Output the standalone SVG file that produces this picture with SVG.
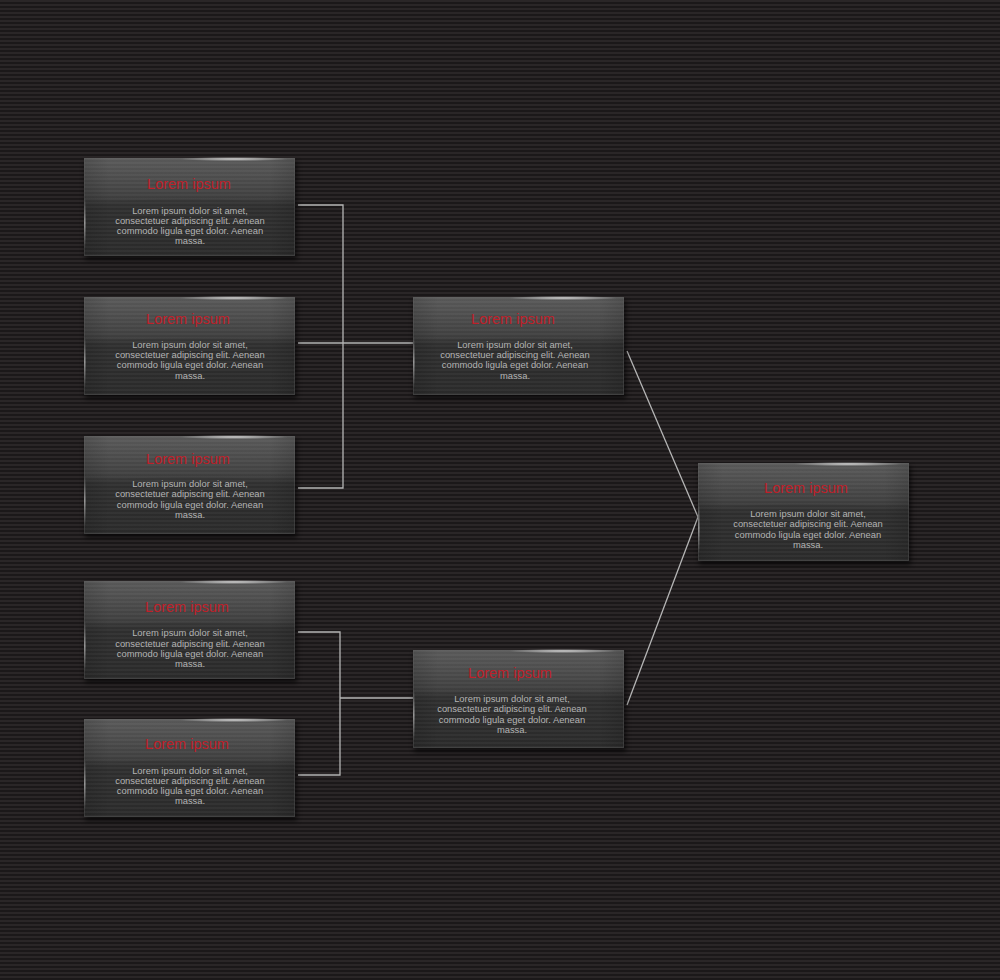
<svg xmlns="http://www.w3.org/2000/svg" xmlns:xlink="http://www.w3.org/1999/xlink" width="1000" height="980" viewBox="0 0 1000 980">
<style>
.t{font-family:"Liberation Sans",Arial,sans-serif;font-size:14.5px;fill:#bf2029;text-anchor:middle}
.b{font-family:"Liberation Sans",Arial,sans-serif;font-size:9.4px;fill:#b4b4b4;text-anchor:middle}
.c{fill:none;stroke:#b4b4b4;stroke-width:1.3}
</style>
<defs>
<pattern id="bg" width="8" height="4" patternUnits="userSpaceOnUse">
<rect width="8" height="4" fill="#1b1819"/>
<rect y="0" width="8" height="2" fill="#2a2627"/>
</pattern>
<pattern id="st" width="8" height="4" patternUnits="userSpaceOnUse">
<rect width="8" height="2" fill="#ffffff" opacity="0.04"/>
</pattern>
<linearGradient id="cg" x1="0" y1="0" x2="0" y2="1">
<stop offset="0" stop-color="#4a4a4a"/>
<stop offset="0.4" stop-color="#3a3a3a"/>
<stop offset="0.5" stop-color="#2e2e2e"/>
<stop offset="1" stop-color="#2a2a2a"/>
</linearGradient>
<linearGradient id="gl" x1="0" y1="0" x2="0" y2="1">
<stop offset="0" stop-color="#ffffff" stop-opacity="0.08"/>
<stop offset="0.8" stop-color="#ffffff" stop-opacity="0.03"/>
<stop offset="1" stop-color="#ffffff" stop-opacity="0"/>
</linearGradient>
<linearGradient id="side" x1="0" y1="0" x2="1" y2="0">
<stop offset="0" stop-color="#000" stop-opacity="0.12"/>
<stop offset="0.12" stop-color="#000" stop-opacity="0"/>
<stop offset="0.88" stop-color="#000" stop-opacity="0"/>
<stop offset="1" stop-color="#000" stop-opacity="0.12"/>
</linearGradient>
<radialGradient id="glow" cx="0.5" cy="0.5" r="0.5">
<stop offset="0" stop-color="#ffffff" stop-opacity="0.7"/>
<stop offset="1" stop-color="#ffffff" stop-opacity="0"/>
</radialGradient>
<linearGradient id="edge" x1="0" y1="0" x2="0" y2="1">
<stop offset="0" stop-color="#ffffff" stop-opacity="0"/>
<stop offset="0.5" stop-color="#ffffff" stop-opacity="0.45"/>
<stop offset="1" stop-color="#ffffff" stop-opacity="0"/>
</linearGradient>
<filter id="sh" x="-10%" y="-10%" width="120%" height="130%">
<feGaussianBlur stdDeviation="2.5"/>
</filter>
<g id="card">
<rect x="1" y="3" width="212" height="99" fill="#000" opacity="0.6" filter="url(#sh)"/>
<rect width="211" height="98" fill="url(#cg)"/>
<path d="M0 0H211V46Q105.5 36 0 46Z" fill="url(#gl)"/>
<rect width="211" height="98" fill="url(#st)"/>
<rect width="211" height="98" fill="url(#side)"/>
<rect x="0.5" y="0.5" width="210" height="97" fill="none" stroke="#6a6a6a" stroke-opacity="0.3"/>
<ellipse cx="150" cy="1" rx="55" ry="2.2" fill="url(#glow)"/>
<rect x="0" y="40" width="1.6" height="50" fill="url(#edge)"/>
</g>
</defs>
<rect width="1000" height="980" fill="url(#bg)"/>
<g id="connectors">
<polyline class="c" points="298,205 343,205 343,488 298,488"/>
<line class="c" x1="298" y1="343" x2="413" y2="343"/>
<polyline class="c" points="298,632 340,632 340,775 298,775"/>
<line class="c" x1="340" y1="698" x2="413" y2="698"/>
<polyline class="c" points="627,351 698,517 627,705"/>
</g>
<g id="n1" transform="translate(84,158)">
<use xlink:href="#card"/>
<text class="t" x="105" y="31">Lorem ipsum</text>
<text class="b" x="106" y="56">Lorem ipsum dolor sit amet,</text>
<text class="b" x="106" y="66">consectetuer adipiscing elit. Aenean</text>
<text class="b" x="106" y="76">commodo ligula eget dolor. Aenean</text>
<text class="b" x="106" y="86">massa.</text>
</g>
<g id="n2" transform="translate(84,297)">
<use xlink:href="#card"/>
<text class="t" x="104" y="27">Lorem ipsum</text>
<text class="b" x="106" y="51">Lorem ipsum dolor sit amet,</text>
<text class="b" x="106" y="61">consectetuer adipiscing elit. Aenean</text>
<text class="b" x="106" y="71">commodo ligula eget dolor. Aenean</text>
<text class="b" x="106" y="82">massa.</text>
</g>
<g id="n3" transform="translate(84,436)">
<use xlink:href="#card"/>
<text class="t" x="104" y="28">Lorem ipsum</text>
<text class="b" x="106" y="51">Lorem ipsum dolor sit amet,</text>
<text class="b" x="106" y="61">consectetuer adipiscing elit. Aenean</text>
<text class="b" x="106" y="72">commodo ligula eget dolor. Aenean</text>
<text class="b" x="106" y="82">massa.</text>
</g>
<g id="n4" transform="translate(84,581)">
<use xlink:href="#card"/>
<text class="t" x="103" y="31">Lorem ipsum</text>
<text class="b" x="106" y="55">Lorem ipsum dolor sit amet,</text>
<text class="b" x="106" y="66">consectetuer adipiscing elit. Aenean</text>
<text class="b" x="106" y="76">commodo ligula eget dolor. Aenean</text>
<text class="b" x="106" y="86">massa.</text>
</g>
<g id="n5" transform="translate(84,719)">
<use xlink:href="#card"/>
<text class="t" x="103" y="30">Lorem ipsum</text>
<text class="b" x="106" y="55">Lorem ipsum dolor sit amet,</text>
<text class="b" x="106" y="65">consectetuer adipiscing elit. Aenean</text>
<text class="b" x="106" y="75">commodo ligula eget dolor. Aenean</text>
<text class="b" x="106" y="85">massa.</text>
</g>
<g id="m1" transform="translate(413,297)">
<use xlink:href="#card"/>
<text class="t" x="100" y="27">Lorem ipsum</text>
<text class="b" x="102" y="51">Lorem ipsum dolor sit amet,</text>
<text class="b" x="102" y="61">consectetuer adipiscing elit. Aenean</text>
<text class="b" x="102" y="71">commodo ligula eget dolor. Aenean</text>
<text class="b" x="102" y="82">massa.</text>
</g>
<g id="m2" transform="translate(413,650)">
<use xlink:href="#card"/>
<text class="t" x="97" y="28">Lorem ipsum</text>
<text class="b" x="99" y="52">Lorem ipsum dolor sit amet,</text>
<text class="b" x="99" y="62">consectetuer adipiscing elit. Aenean</text>
<text class="b" x="99" y="73">commodo ligula eget dolor. Aenean</text>
<text class="b" x="99" y="83">massa.</text>
</g>
<g id="r1" transform="translate(698,463)">
<use xlink:href="#card"/>
<text class="t" x="108" y="30">Lorem ipsum</text>
<text class="b" x="110" y="54">Lorem ipsum dolor sit amet,</text>
<text class="b" x="110" y="64">consectetuer adipiscing elit. Aenean</text>
<text class="b" x="110" y="75">commodo ligula eget dolor. Aenean</text>
<text class="b" x="110" y="85">massa.</text>
</g>
</svg>
